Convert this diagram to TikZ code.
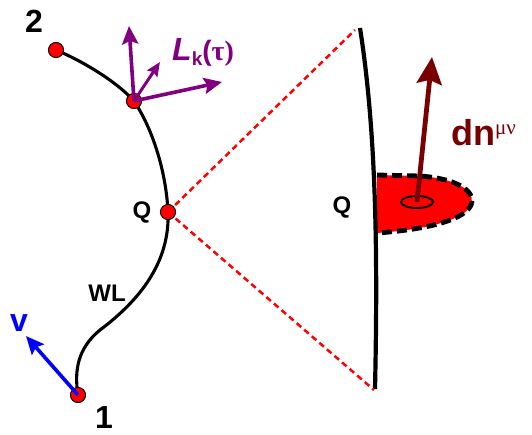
\documentclass[tikz,border=0pt]{standalone}
\usepackage{fontspec}
\setmainfont{Liberation Sans}
\newfontfamily\grk{Liberation Serif}
\usetikzlibrary{arrows.meta,shapes.geometric}
\definecolor{lkpurple}{RGB}{128,0,128}
\definecolor{dnred}{RGB}{120,0,0}
\tikzset{
  dot/.style={circle,fill=red,draw=black,line width=0.8pt,inner sep=0pt,minimum size=15pt},
  wl/.style={line width=3.1pt,black},
  lkarrow/.style={line width=3.6pt,lkpurple,-{Stealth[length=18pt,width=16pt,inset=3pt]}},
  varrow/.style={line width=3.6pt,blue,-{Stealth[length=18pt,width=16pt,inset=3pt]}},
  dnarrow/.style={line width=4.8pt,dnred,-{Stealth[length=27pt,width=25pt,inset=4pt]}},
  cone/.style={red,line width=2.5pt,dash pattern=on 6pt off 4pt},
  lbl/.style={font=\bfseries\fontsize{24}{24}\selectfont,inner sep=0pt},
  biglbl/.style={font=\bfseries\fontsize{32}{32}\selectfont,inner sep=0pt}
}
\begin{document}
\begin{tikzpicture}[x=1pt,y=-1pt]
\useasboundingbox (0,0) rectangle (532,434);
% surface
\coordinate (s1) at (360,28);
\coordinate (s2) at (375,389);
\coordinate (c1) at (355,30);
\coordinate (c2) at (374,390);
% disk
\fill[red] (377,175) -- (420,176) .. controls (462,179) and (478,194) .. (470,207)
  .. controls (460,222) and (420,230) .. (377,233) -- cycle;
\draw[black,line width=4.8pt,dash pattern=on 10pt off 5pt] (377,175) -- (420,176) .. controls (462,179) and (478,194) .. (470,207)
  .. controls (460,222) and (420,230) .. (377,233);
\draw[line width=4.2pt] (s1) .. controls (376,130) and (378,250) .. (s2);
\node[draw=black,line width=1.9pt,ellipse,minimum width=32pt,minimum height=12pt,inner sep=0pt] (e) at (417,202) {};
\coordinate (dntip) at (432,57);
\draw[dnarrow] (e.center) -- (dntip);
% points
\node[dot] (p2) at (56,50) {};
\node[dot] (pk) at (134,101) {};
\node[dot] (pQ) at (168,212) {};
\node[dot] (p1) at (78,395) {};
% cone
\draw[cone] (pQ.center) -- (c1);
\draw[cone] (pQ.center) -- (c2);
% world line
\draw[wl] (p2.center) .. controls (80,60) and (115,80) .. (pk.center)
  .. controls (152,128) and (166,170) .. (pQ.center)
  .. controls (170,262) and (140,300) .. (100,330)
  .. controls (78,348) and (74,370) .. (p1.center);
\node[dot] at (p2) {};
\node[dot] at (pk) {};
\node[dot] at (pQ) {};
\node[dot] at (p1) {};
% Lk arrows
\coordinate (a1) at (129,26);
\coordinate (a2) at (160,62);
\coordinate (a3) at (222,82);
\draw[lkarrow] (pk.center) -- (a1);
\draw[lkarrow,-{Stealth[length=14pt,width=12pt,inset=2pt]},line width=3pt] (pk.center) -- (a2);
\draw[lkarrow] (pk.center) -- (a3);
% v arrow
\coordinate (vt) at (26,336);
\draw[varrow] (p1.center) -- (vt);
% labels
\node[biglbl] (l2) at (34,21) {2};
\node[biglbl] (l1) at (104,417) {1};
\node[lbl] (lq1) at (142,212) {Q};
\node[lbl] (lq2) at (342,207) {Q};
\node[lbl] (lwl) at (107,293) {WL};
\node[biglbl,blue] (lv) at (19,323) {v};
\node[lkpurple,inner sep=0pt,anchor=base west] (llk) at (172,60) {\bfseries\itshape\fontsize{32}{32}\selectfont L\raisebox{-5pt}{\upshape\fontsize{19}{19}\selectfont k}\upshape\fontsize{28}{28}\selectfont(\grk τ)};
\node[dnred,inner sep=0pt,anchor=base west] (ldn) at (451,145) {\bfseries\fontsize{36}{36}\selectfont dn\raisebox{11pt}{\mdseries\grk\fontsize{21}{21}\selectfont μν}};
\end{tikzpicture}
\end{document}
